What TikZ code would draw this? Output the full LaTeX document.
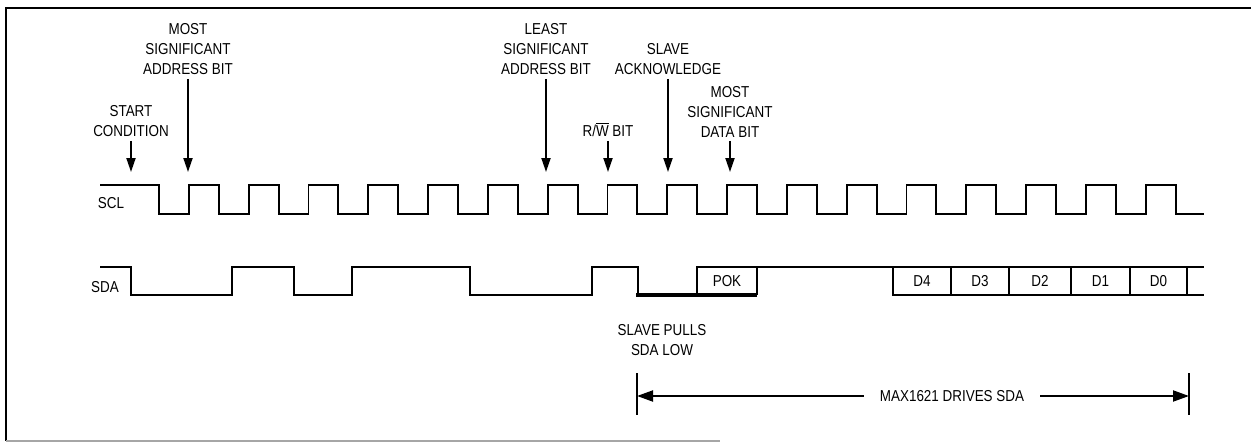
\documentclass[tikz,border=0pt]{standalone}
\usepackage{fontspec}
\setmainfont[FakeStretch=0.85]{Liberation Sans}
\usepackage{tikz}
\usetikzlibrary{positioning,arrows.meta}

\begin{document}
\begin{tikzpicture}[
    x=0.02cm, y=-0.02cm,
    >={Triangle[length=2.8mm,width=1.8mm]},
    wave/.style={line width=1.1pt, line join=miter},
    lbl/.style={font=\fontsize{9}{11.4}\selectfont, align=center, inner sep=2pt},
    callout/.style={->, line width=1.1pt},
    bitlbl/.style={font=\fontsize{9}{10}\selectfont, inner sep=1pt}
]
\useasboundingbox (0,0) rectangle (1251,442);

% Rows
\def\sclHi{185}
\def\sclLo{214}
\def\sdaHi{267}
\def\sdaLo{295}
\def\yTip{172}
\def\yLong{79}
\def\yShort{141}
\def\yDrv{396}

% Frame
\draw[line width=1.2pt] (1251,8) -- (6,8) -- (6,441);
\draw[gray!70, line width=1pt] (6,441) -- (720,441);

% Signal names
\node[lbl] (scl) at (111,203) {SCL};
\node[lbl] (sda) at (105,287) {SDA};

% SCL clock
\draw[wave] (100,\sclHi) -- (159,\sclHi) -- (159,\sclLo)
    \foreach \k in {1,...,17} {
        -| ({129.1+59.8*\k},\sclHi) -| ({159+59.8*\k},\sclLo)
    } -- (1204,\sclLo);

% SDA data
\draw[wave] (100,\sdaHi) -| (131,\sdaLo) -| (232,\sdaHi) -| (294,\sdaLo)
    -| (352,\sdaHi) -| (470,\sdaLo) -| (592,\sdaHi) -| (638,\sdaLo);
\draw[line width=2.4pt] (636,\sdaLo) -- (757,\sdaLo);
\draw[wave] (697,\sdaLo) -- (697,\sdaHi) -- (1204,\sdaHi);
\draw[wave] (757,\sdaLo) -- (757,\sdaHi);
\draw[wave] (893,\sdaHi) -- (893,\sdaLo) -- (1204,\sdaLo);
\foreach \xb in {951,1009,1071,1130,1187}
    \draw[wave] (\xb,\sdaHi) -- (\xb,\sdaLo);

% Bit names
\node[bitlbl] (pok)    at (727,281)    {POK};
\node[bitlbl] (dfour)  at (922,281)    {D4};
\node[bitlbl] (dthree) at (980,281)    {D3};
\node[bitlbl] (dtwo)   at (1040,281)   {D2};
\node[bitlbl] (done)   at (1100.5,281) {D1};
\node[bitlbl] (dzero)  at (1158.5,281) {D0};

% Callouts
\node[lbl, anchor=south] (start) at (131,\yShort) {START\\CONDITION};
\node[lbl, anchor=south] (msa)   at (188,\yLong)  {MOST\\SIGNIFICANT\\ADDRESS BIT};
\node[lbl, anchor=south] (lsa)   at (546,\yLong)  {LEAST\\SIGNIFICANT\\ADDRESS BIT};
\node[lbl, anchor=south] (rw)    at (608,\yShort) {R/$\overline{\hbox{W}}$ BIT};
\node[lbl, anchor=south] (ack)   at (668,\yLong)  {SLAVE\\ACKNOWLEDGE};
\node[lbl, anchor=south] (msd)   at (730,\yShort) {MOST\\SIGNIFICANT\\DATA BIT};

\coordinate (startTip) at (131,\yTip);
\coordinate (msaTip)   at (188,\yTip);
\coordinate (lsaTip)   at (546,\yTip);
\coordinate (rwTip)    at (608,\yTip);
\coordinate (ackTip)   at (668,\yTip);
\coordinate (msdTip)   at (730,\yTip);

\draw[callout] (start) -- (startTip);
\draw[callout] (msa) -- (msaTip);
\draw[callout] (lsa) -- (lsaTip);
\draw[callout] (rw) -- (rwTip);
\draw[callout] (ack) -- (ackTip);
\draw[callout] (msd) -- (msdTip);

\node[lbl] (pulls) at (662,340) {SLAVE PULLS\\SDA LOW};

% Span driven by the MAX1621
\draw[line width=0.8pt] (637,373) -- (637,415);
\draw[line width=0.8pt] (1189,373) -- (1189,415);
\coordinate (drvL) at (637,\yDrv);
\coordinate (drvR) at (1189,\yDrv);
\node[lbl, inner xsep=9pt] (drv) at (952,\yDrv) {MAX1621 DRIVES SDA};
\draw[callout, >={Triangle[length=3.2mm,width=2.2mm]}] (drv) -- (drvL);
\draw[callout, >={Triangle[length=3.2mm,width=2.2mm]}] (drv) -- (drvR);
\end{tikzpicture}
\end{document}
